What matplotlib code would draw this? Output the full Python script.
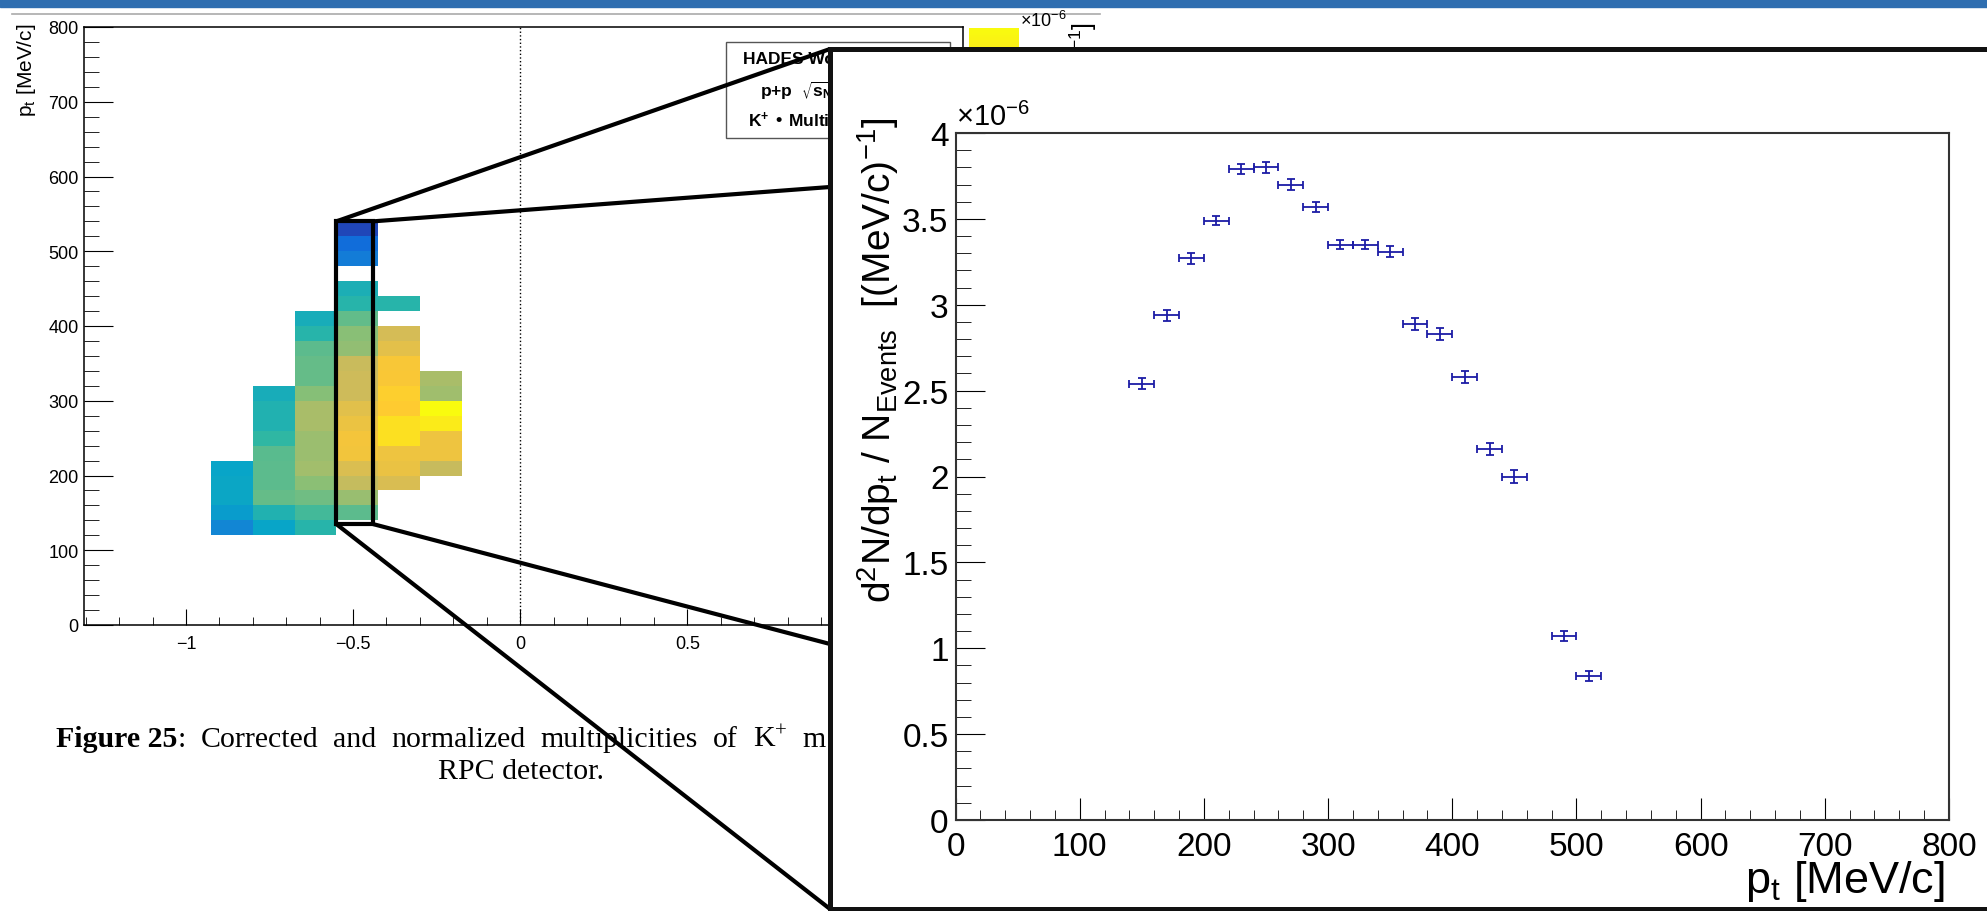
import matplotlib
matplotlib.use("Agg")
import matplotlib.pyplot as plt
import numpy as np
from matplotlib.colors import LinearSegmentedColormap
from matplotlib.patches import Rectangle, ConnectionPatch
from matplotlib.lines import Line2D
from matplotlib.ticker import MultipleLocator, FuncFormatter

W, H = 1987, 912
n = np.nan

# 2D map: rapidity-like columns, pt rows of 20 MeV/c (values x1e-6)
y_edges = [-0.925, -0.8, -0.675, -0.55, -0.425, -0.3, -0.175]
pt_edges = [120, 140, 160, 180, 200, 220, 240, 260, 280, 300, 320,
            340, 360, 380, 400, 420, 440, 460, 480, 500, 520, 540]
col_1 = [1.22, 1.58, 1.76, 1.76, 1.71] + [n] * 16
col_2 = [1.71, 2.07, 2.59, 2.54, 2.54, 2.52, 2.25, 2.07, 2.07, 1.94] + [n] * 11
col_3 = [2.16, 2.39, 2.66, 2.84, 3.02, 2.97, 2.97, 3.06, 3.06, 2.81,
         2.59, 2.59, 2.54, 2.16, 1.94] + [n] * 6
col_4 = [n, 2.54, 2.94, 3.27, 3.49, 3.79, 3.80, 3.70, 3.57, 3.35, 3.35,
         3.31, 2.89, 2.83, 2.58, 2.16, 2.00, n, 1.07, 0.84, 0.32]
col_5 = [n, n, n, 3.47, 3.69, 3.74, 4.19, 4.19, 3.96, 4.00, 3.87, 3.85,
         3.60, 3.42, n, 2.16, n, n, n, n, n]
col_6 = [n, n, n, n, 3.29, 3.74, 3.74, 4.32, 4.50, 2.99, 3.06] + [n] * 10
cbar_ticks = [0, 1, 2, 3, 4]

# selected slice shown in the zoom
sel_y = (-0.55, -0.44)
sel_pt = (135, 540)

# projection of the slice
pt_centers = [150, 170, 190, 210, 230, 250, 270, 290, 310, 330, 350,
              370, 390, 410, 430, 450, 490, 510]
dndpt = [2.54, 2.94, 3.27, 3.49, 3.79, 3.80, 3.70, 3.57, 3.35, 3.35, 3.31,
         2.89, 2.83, 2.58, 2.16, 2.00, 1.07, 0.84]
dndpt_err = [0.033, 0.032, 0.030, 0.028, 0.030, 0.030, 0.030, 0.030, 0.028,
             0.028, 0.030, 0.035, 0.033, 0.035, 0.035, 0.035, 0.030, 0.030]
pt_halfwidth = 10

cap_words = ["Corrected", "and", "normalized", "multiplicities", "of", "K$^{+}$", "m"]

plt.rcParams['font.family'] = ['Liberation Sans', 'DejaVu Sans']
plt.rcParams['mathtext.default'] = 'regular'

# ROOT kBird palette
stops = [0.0, 0.125, 0.25, 0.375, 0.5, 0.625, 0.75, 0.875, 1.0]
red = [0.2082, 0.0592, 0.0780, 0.0232, 0.1802, 0.5301, 0.8186, 0.9956, 0.9764]
green = [0.1664, 0.3599, 0.5041, 0.6419, 0.7178, 0.7492, 0.7328, 0.7862, 0.9832]
blue = [0.5293, 0.8684, 0.8385, 0.7914, 0.6425, 0.4662, 0.3499, 0.1968, 0.0539]
bird = LinearSegmentedColormap.from_list('bird', list(zip(stops, zip(red, green, blue))))


def rect(x0, y0, x1, y1):
    return [x0 / W, 1 - y1 / H, (x1 - x0) / W, (y1 - y0) / H]


def fx(x):
    return x / W


def fy(y):
    return 1 - y / H


def fmt(v, pos):
    return f"{v:g}".replace('-', '\u2212')


fig = plt.figure(figsize=(W / 100, H / 100), dpi=100)

# page header
fig.patches.append(Rectangle((0, fy(8)), 1, 8 / H, transform=fig.transFigure,
                             color='#2f6eb0', zorder=0))
fig.add_artist(Line2D([fx(12), fx(1100)], [fy(15), fy(15)], color='#aaaaaa', lw=1.2))

# --- 2D map ---
ax = fig.add_axes(rect(84, 28, 963, 626))
Z = np.array([col_1, col_2, col_3, col_4, col_5, col_6]).T
mesh = ax.pcolormesh(y_edges, pt_edges, np.ma.masked_invalid(Z), cmap=bird,
                     vmin=0, vmax=np.nanmax(Z))
ax.axvline(0, color='black', ls=':', lw=1)
ax.set_xlim(-1.305, 1.325)
ax.set_ylim(0, 800)
ax.xaxis.set_major_locator(MultipleLocator(0.5))
ax.xaxis.set_minor_locator(MultipleLocator(0.1))
ax.yaxis.set_major_locator(MultipleLocator(100))
ax.yaxis.set_minor_locator(MultipleLocator(20))
ax.xaxis.set_major_formatter(FuncFormatter(fmt))
ax.tick_params(which='both', direction='in', top=False, right=False, labelsize=13)
ax.tick_params(axis='y', which='major', length=21, pad=4)
ax.tick_params(axis='y', which='minor', length=11)
ax.tick_params(axis='x', which='major', length=11.5, pad=7)
ax.tick_params(axis='x', which='minor', length=6)
for s in ax.spines.values():
    s.set_linewidth(1.1)
fig.text(fx(26), fy(24), "p$_{t}$ [MeV/c]", rotation=90, ha='center', va='top', size=15)

ax.add_patch(Rectangle((sel_y[0], sel_pt[0]), sel_y[1] - sel_y[0], sel_pt[1] - sel_pt[0],
                       fill=False, ec='black', lw=3, zorder=5, clip_on=False))

cax = fig.add_axes(rect(969, 29, 1019, 626))
cb = fig.colorbar(mesh, cax=cax, ticks=cbar_ticks)
cb.outline.set_visible(False)
fig.text(fx(1020), fy(27), "\u00d710$^{-6}$", size=13, va='baseline')
ylab = "d$^{2}$N/dp$_{t}$ / N$_{Events}$  [(MeV/c)$^{-1}$]"
fig.text(fx(1083), fy(22), ylab, rotation=90, ha='center', va='top', size=18)

# legend box
fig.patches.append(Rectangle((fx(726), fy(139)), (950 - 726) / W, (139 - 43) / H,
                             transform=fig.transFigure, fc='white', ec='#555555',
                             lw=1, zorder=4))
fig.text(fx(743), fy(60), "HADES Wo", weight='bold', size=12.5, va='center', zorder=4.5)
fig.text(fx(760), fy(91), "p+p  $\\sqrt{s_{NN}}$", weight='bold', size=12.5, va='center', zorder=4.5)
fig.text(fx(748), fy(122), "K$^{+}$ \u2022 Multip", weight='bold', size=12.5, va='center', zorder=4.5)

# zoom lines
panel_pts = [((sel_y[0], sel_pt[1]), (830, 50)), ((sel_y[1], sel_pt[1]), (830, 188)),
             ((sel_y[0], sel_pt[0]), (830, 910)), ((sel_y[1], sel_pt[0]), (830, 645))]
for a, b in panel_pts:
    con = ConnectionPatch(xyA=a, coordsA=ax.transData, xyB=(fx(b[0]), fy(b[1])),
                          coordsB=fig.transFigure, color='black', lw=3, zorder=6)
    fig.add_artist(con)

# caption, first line justified up to the zoom panel
serif = 'Liberation Serif'
csize = 21.5
cap1 = fig.text(fx(56), fy(740), "Figure 25", family=serif, weight='bold', size=csize, va='center')
fig.canvas.draw()
x_cur = cap1.get_window_extent().x1
colon = fig.text(x_cur / W, fy(740), ":", family=serif, size=csize, va='center')
fig.canvas.draw()
x_cur = colon.get_window_extent().x1
word_txt = [fig.text(0, fy(740), w, family=serif, size=csize, va='center') for w in cap_words]
fig.canvas.draw()
widths = [t.get_window_extent().width for t in word_txt]
gap = (826 - x_cur - sum(widths)) / len(cap_words)
for t, w in zip(word_txt, widths):
    x_cur += gap
    t.set_x(x_cur / W)
    x_cur += w
fig.text(fx(521), fy(772), "RPC detector.", family=serif, size=csize,
         ha='center', va='center')

# --- zoom panel ---
pax = fig.add_axes(rect(830, 50, 2010, 910))
pax.set_zorder(10)
pax.set_xticks([])
pax.set_yticks([])
for s in pax.spines.values():
    s.set_linewidth(3.6)
    s.set_color('#111111')

iax = fig.add_axes(rect(955.5, 134, 1949, 821))
iax.set_zorder(11)
iax.errorbar(pt_centers, dndpt, yerr=dndpt_err, xerr=pt_halfwidth, fmt='none',
             ecolor='#1c1ca6', elinewidth=1.3, capsize=3, capthick=1.3)
iax.set_xlim(0, 800)
iax.set_ylim(0, 4)
iax.xaxis.set_major_locator(MultipleLocator(100))
iax.xaxis.set_minor_locator(MultipleLocator(20))
iax.yaxis.set_major_locator(MultipleLocator(0.5))
iax.yaxis.set_minor_locator(MultipleLocator(0.1))
iax.xaxis.set_major_formatter(FuncFormatter(fmt))
iax.yaxis.set_major_formatter(FuncFormatter(fmt))
iax.tick_params(which='both', direction='in', top=False, right=False, labelsize=24)
iax.tick_params(axis='y', which='major', length=21, pad=5)
iax.tick_params(axis='y', which='minor', length=11)
iax.tick_params(axis='x', which='major', length=16, pad=8)
iax.tick_params(axis='x', which='minor', length=7.5)
for s in iax.spines.values():
    s.set_linewidth(1.5)
    s.set_color('#333333')
iax.text(0, 1.003, "\u00d710$^{-6}$", transform=iax.transAxes, size=21, va='bottom')

fig.text(fx(878), fy(118), ylab, rotation=90, ha='center', va='top', size=28, zorder=12)
fig.text(fx(1945), fy(882), "p$_{t}$ [MeV/c]", ha='right', va='center', size=32.5, zorder=12)

fig.savefig('out.png', dpi=100)
